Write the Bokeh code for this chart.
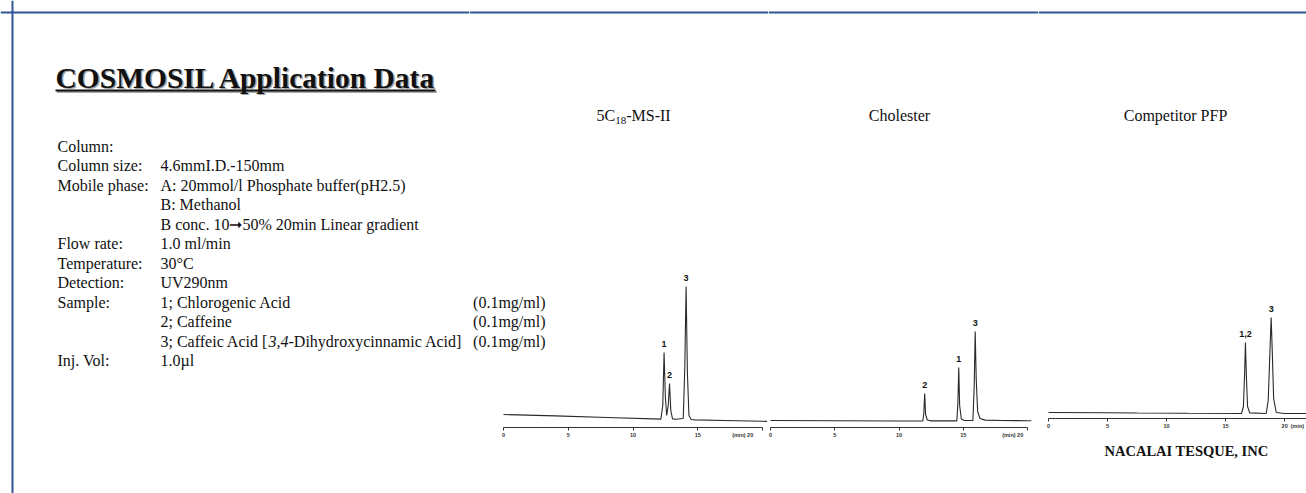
from bokeh.plotting import figure
from bokeh.models import Range1d, LinearAxis, FixedTicker, Span
from bokeh.layouts import row, column
from bokeh.core.properties import value
from bokeh.embed import file_html
from bokeh.resources import INLINE

# ---------------- data ----------------
axis_ticks = [0, 5, 10, 15, 20]
time_unit = "(min)"

panel_titles = ["Cholester", "Competitor PFP"]

# 5C18-MS-II
c1_time = [0.0, 4.0, 8.0, 12.15, 12.3, 12.4, 12.5, 12.6, 12.72, 12.82, 12.92, 13.05,
           13.3, 13.88, 14.0, 14.1, 14.2, 14.32, 14.5, 14.8, 17.0, 20.0, 20.35]
c1_signal = [13.0, 11.6, 10.0, 8.4, 22.0, 75.0, 30.0, 12.0, 22.0, 44.0, 17.0, 8.6,
             8.2, 9.0, 60.0, 141.0, 55.0, 12.0, 8.0, 7.6, 7.0, 6.2, 6.1]
c1_peak_label = ["1", "2", "3"]
c1_peak_time = [12.4, 12.82, 14.1]
c1_peak_signal = [75.0, 44.0, 141.0]

# Cholester
c2_time = [0.0, 5.0, 10.0, 11.85, 11.93, 12.0, 12.07, 12.2, 12.5, 14.5, 14.58, 14.65,
           14.72, 14.85, 15.1, 15.75, 15.85, 15.93, 16.01, 16.12, 16.3, 16.7, 18.0,
           20.0, 20.3]
c2_signal = [7.0, 6.8, 6.5, 6.5, 14.0, 34.0, 13.0, 7.5, 6.6, 6.6, 24.0, 60.0,
             22.0, 8.5, 7.0, 7.0, 40.0, 96.0, 48.0, 16.0, 9.0, 7.4, 7.0,
             6.8, 6.8]
c2_peak_label = ["2", "1", "3"]
c2_peak_time = [12.0, 14.65, 15.93]
c2_peak_signal = [34.0, 60.0, 96.0]

# Competitor PFP
c3_time = [0.0, 5.0, 7.5, 11.8, 16.35, 16.52, 16.62, 16.69, 16.77, 16.87, 17.05,
           18.45, 18.62, 18.78, 18.87, 18.96, 19.08, 19.3, 20.0, 21.9]
c3_signal = [6.0, 5.8, 5.5, 5.2, 5.0, 12.0, 45.0, 76.0, 42.0, 12.0, 5.6,
             5.0, 18.0, 72.0, 101.0, 68.0, 20.0, 6.0, 5.0, 5.0]
c3_peak_label = ["1,2", "3"]
c3_peak_time = [16.69, 18.87]
c3_peak_signal = [76.0, 101.0]

cond_labels = ["Column:", "Column size:", "Mobile phase:", "", "", "Flow rate:",
               "Temperature:", "Detection:", "Sample:", "", "", "Inj. Vol:"]
cond_values = ["", "4.6mmI.D.-150mm", "A: 20mmol/l Phosphate buffer(pH2.5)",
               "B: Methanol", "B conc. 10\u279e50% 20min Linear gradient",
               "1.0 ml/min", "30\u00b0C", "UV290nm", "1; Chlorogenic Acid",
               "2; Caffeine", "3; Caffeic Acid [", "1.0\u00b5l"]
sample_conc = ["(0.1mg/ml)", "(0.1mg/ml)", "(0.1mg/ml)"]

# ---------------- layout / style ----------------
SERIF = "Liberation Serif"
SANS = "Liberation Sans"
BLUE = "#2F5597"
INK = "#111111"
TRACE = "#2a2a2a"
NB = "\u00a0"

PAGE_H = 493
SPLIT = [0, 469, 768, 1038, 1306]
ROW0, ROW_STEP = 145.5, 19.5
rows_y = [ROW0 + ROW_STEP * i for i in range(len(cond_labels))]


def panel(x0, x1, frame_bottom, y_top=0, y_bottom=PAGE_H):
    p = figure(width=x1 - x0, height=y_bottom - y_top,
               x_range=Range1d(x0, x1), y_range=Range1d(frame_bottom, y_top),
               x_axis_location=None, y_axis_location=None,
               output_backend="svg", toolbar_location=None,
               min_border_left=0, min_border_right=0, min_border_top=0,
               min_border_bottom=y_bottom - frame_bottom, frame_align=False)
    p.outline_line_color = None
    p.grid.visible = False
    p.border_fill_color = "white"
    p.background_fill_color = "white"
    return p


def serif_text(p, x, y, t, size="16px", style="normal", color=INK, align="left"):
    p.text(x=x, y=y, text=t, text_font=value(SERIF), text_font_size=size,
           text_font_style=style, text_color=color, text_align=align,
           text_baseline="middle")


# ---- left text panel ----
pa = panel(SPLIT[0], SPLIT[1], PAGE_H)
pa.add_layout(Span(location=12, dimension="width", line_color=BLUE, line_width=2))
pa.add_layout(Span(location=12, dimension="height", line_color=BLUE, line_width=2))
# title with shadow + underline
serif_text(pa, [56.5], [78.5], ["COSMOSIL Application Data"], size="29.5px",
           style="bold", color="#a8a8a8")
pa.line([56.5, 436.5], [91.5, 91.5], line_color="#a8a8a8", line_width=2)
serif_text(pa, [55], [77], ["COSMOSIL Application Data"], size="29.5px", style="bold")
pa.line([55, 435], [90, 90], line_color=INK, line_width=2)

serif_text(pa, [57] * len(cond_labels), rows_y, cond_labels)
serif_text(pa, [160] * len(cond_values), rows_y, cond_values)
serif_text(pa, [268], [rows_y[10]], ["3,4"], style="italic")
serif_text(pa, [288], [rows_y[10]], ["-Dihydroxycinnamic Acid]"])


def chrom(x0, x1, axis_y, px_zero, px_per_min, time, signal, pk_t, pk_s, pk_lbl,
          bounds, last_label, height=PAGE_H):
    p = panel(x0, x1, axis_y, y_bottom=height)
    p.extra_x_ranges = {"t": Range1d((x0 - px_zero) / px_per_min,
                                     (x1 - px_zero) / px_per_min)}
    p.extra_y_ranges = {"s": Range1d(0, axis_y)}
    p.line(time, signal, x_range_name="t", y_range_name="s",
           line_color=TRACE, line_width=1.1)
    p.text(x=pk_t, y=pk_s, text=pk_lbl, x_range_name="t", y_range_name="s",
           y_offset=-9, text_align="center", text_baseline="middle",
           text_font=value(SANS), text_font_style="bold", text_font_size="9px",
           text_color=INK)
    ax = LinearAxis(x_range_name="t", ticker=FixedTicker(ticks=axis_ticks),
                    bounds=bounds)
    ax.major_label_overrides = {axis_ticks[-1]: last_label}
    ax.axis_line_color = "#333333"
    ax.axis_line_width = 1
    ax.major_tick_line_color = "#333333"
    ax.major_tick_in = 0
    ax.major_tick_out = 3
    ax.minor_tick_line_color = None
    ax.major_label_standoff = 1
    ax.major_label_text_font = SANS
    ax.major_label_text_font_style = "bold"
    ax.major_label_text_font_size = "5.5px"
    ax.major_label_text_color = "#333333"
    p.add_layout(ax, "below")
    p.add_layout(Span(location=12, dimension="width", line_color=BLUE, line_width=2))
    return p


# "(min)" sits beside the 20-min label; non-breaking spaces keep "20" on its tick
lbl_left = time_unit + NB + str(axis_ticks[-1]) + NB * 10
lbl_right = NB * 11 + str(axis_ticks[-1]) + NB * 2 + time_unit

p1 = chrom(SPLIT[1], SPLIT[2], 427, 503.0, 12.95, c1_time, c1_signal,
           c1_peak_time, c1_peak_signal, c1_peak_label, (0, 20), lbl_left)
p2 = chrom(SPLIT[2], SPLIT[3], 427, 770.0, 12.85, c2_time, c2_signal,
           c2_peak_time, c2_peak_signal, c2_peak_label, (0, 20), lbl_left)
p3 = chrom(SPLIT[3], SPLIT[4], 418, 1048.0, 11.8, c3_time, c3_signal,
           c3_peak_time, c3_peak_signal, c3_peak_label, (0, 30), lbl_right,
           height=443)

# concentrations of the sample list (they run into the first chromatogram's column)
serif_text(p1, [545] * 3, rows_y[8:11], sample_conc, align="right")

# panel titles
serif_text(p1, [596], [114.5], ["5C"])
serif_text(p1, [614.7], [119.5], ["18"], size="11px")
serif_text(p1, [625.7], [114.5], ["-MS-II"])
serif_text(p2, [899], [114.5], [panel_titles[0]], align="center")
serif_text(p3, [1175], [114.5], [panel_titles[1]], align="center")

# company name strip under the last chromatogram
pb = panel(SPLIT[3], SPLIT[4], PAGE_H, y_top=443, y_bottom=PAGE_H)
serif_text(pb, [1104], [450.5], ["NACALAI TESQUE, INC"], size="14.5px", style="bold")

layout = row(pa, p1, p2, column(p3, pb))
open("out.html", "w").write(file_html(layout, INLINE))
